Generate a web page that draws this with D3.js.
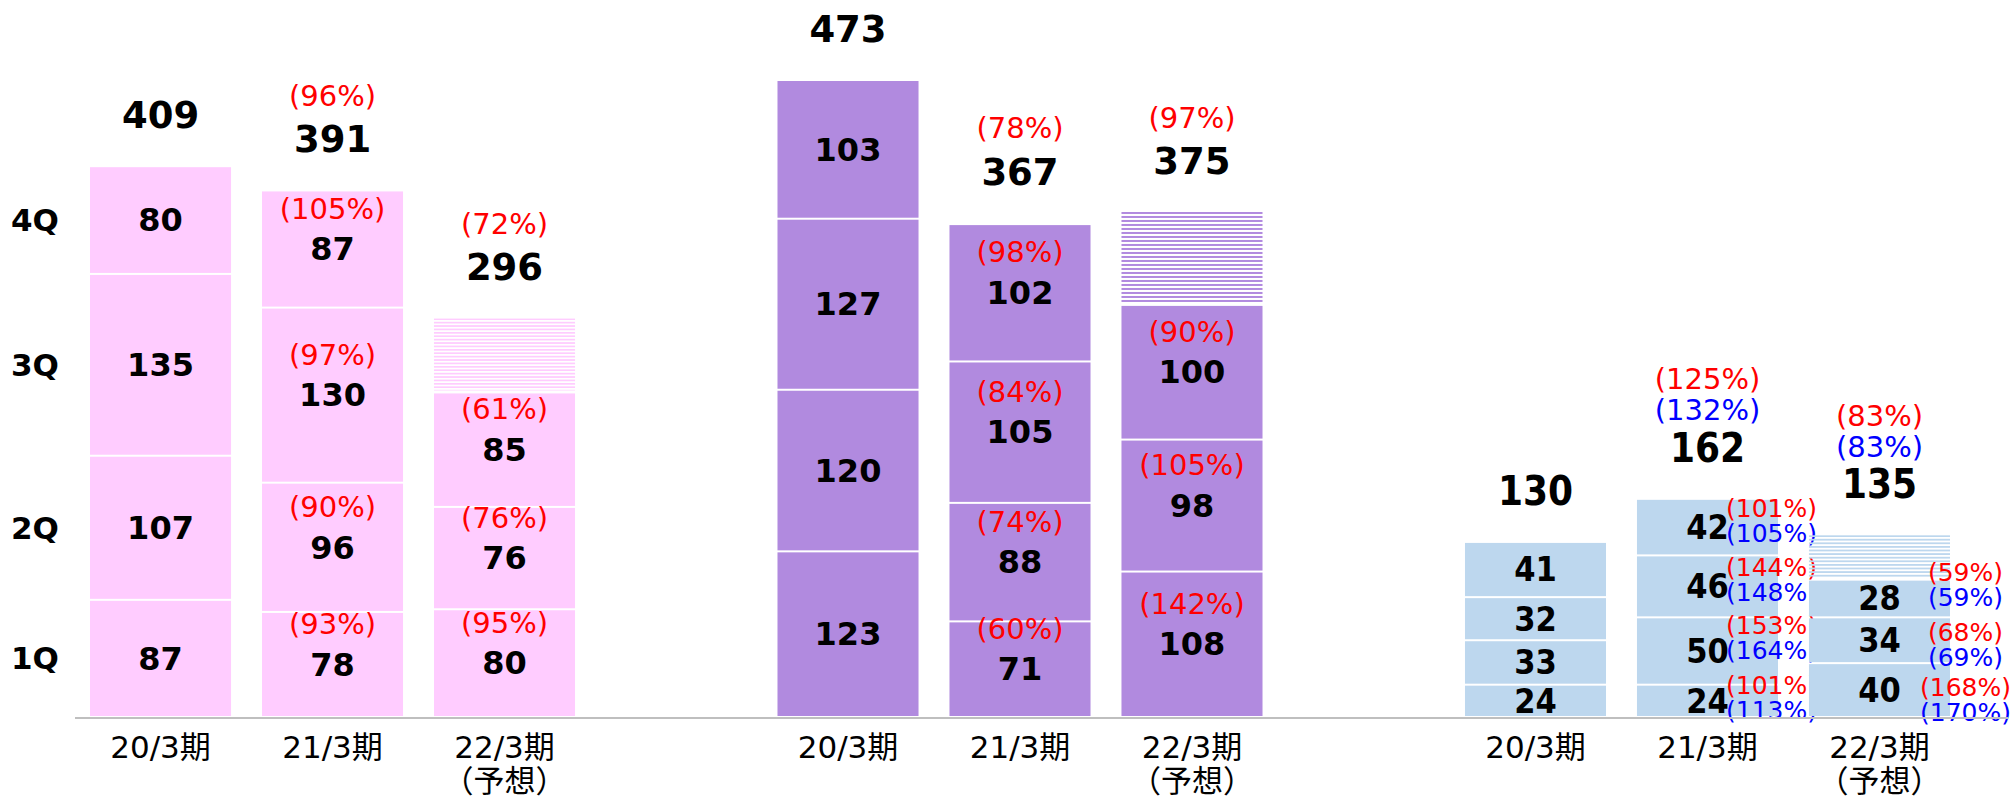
<!DOCTYPE html>
<html>
<head>
<meta charset="utf-8">
<script src="https://cdn.jsdelivr.net/npm/d3@7"></script>
<style>
    body { margin: 0; background: #fff; }
    text { font-family: "DejaVu Sans", "Noto Sans CJK JP", sans-serif; }
</style>
</head>
<body>
<div id="chart"></div>
<script>
// x-axis periods
const periods = ['20/3期', '21/3期', '22/3期'];
const periodNotes = ['', '', '（予想）'];
const quarters = ['1Q', '2Q', '3Q', '4Q'];

// pink group: quarterly values (1Q..4Q), totals, YoY %
const pinkQuarters = [[87, 107, 135, 80], [78, 96, 130, 87], [80, 76, 85]];
const pinkTotals = [409, 391, 296];
const pinkQuarterPct = [[], [93, 90, 97, 105], [95, 76, 61]];
const pinkTotalPct = [null, 96, 72];

// purple group
const purpleQuarters = [[123, 120, 127, 103], [71, 88, 105, 102], [108, 98, 100]];
const purpleTotals = [473, 367, 375];
const purpleQuarterPct = [[], [60, 74, 84, 98], [142, 105, 90]];
const purpleTotalPct = [null, 78, 97];

// blue group, two % rows (red / blue)
const blueQuarters = [[24, 33, 32, 41], [24, 50, 46, 42], [40, 34, 28]];
const blueTotals = [130, 162, 135];
const blueQuarterPctRed = [[], [101, 153, 144, 101], [168, 68, 59]];
const blueQuarterPctBlue = [[], [113, 164, 148, 105], [170, 69, 59]];
const blueTotalPctRed = [null, 125, 83];
const blueTotalPctBlue = [null, 132, 83];

const groups = [
    { key: 'pink', color: '#ffccff', q: pinkQuarters, totals: pinkTotals, pct: pinkQuarterPct, totalPct: pinkTotalPct, stripe: 3.4 },
    { key: 'purple', color: '#b18adf', q: purpleQuarters, totals: purpleTotals, pct: purpleQuarterPct, totalPct: purpleTotalPct, stripe: 4 },
    { key: 'blue', color: '#bdd7ee', q: blueQuarters, totals: blueTotals, pct: blueQuarterPctRed, pct2: blueQuarterPctBlue,
      totalPct: blueTotalPctRed, totalPct2: blueTotalPctBlue, stripe: 3.6, narrow: true }
];

// small vertical nudges for the side-by-side % pairs in the blue group (label layout only)
const sideNudge = [[], [-3, -13, -6, -6], [10, 5, -13]];
const sideShift = [0, 64, 86];

const width = 2012;
const height = 800;
const fmtPct = v => `(${v}%)`;

const svg = d3.select('#chart')
    .append('svg')
    .attr('width', width)
    .attr('height', height);

const defs = svg.append('defs');

// scales
const y = d3.scaleLinear().domain([0, 473]).range([717, 80]);

const x0 = d3.scaleBand()
    .domain(groups.map(g => g.key))
    .range([90, 1950])
    .paddingInner(0.2945)
    .paddingOuter(0);

const x1 = d3.scaleBand()
    .domain(periods)
    .range([0, x0.bandwidth()])
    .paddingInner(0.18);

const bw = x1.bandwidth();

groups.forEach(gr => {
    const g = svg.append('g').attr('transform', `translate(${x0(gr.key)},0)`);
    const numFont = gr.narrow ? '"DejaVu Sans Condensed", "DejaVu Sans", sans-serif' : null;

    periods.forEach((p, i) => {
        const bx = x1(p);
        const cx = bx + bw / 2;
        let base = 0;
        const segs = gr.q[i].map((v, k) => {
            const s = { v, k, y0: base, y1: base + v };
            base += v;
            return s;
        });
        const mid = d => (y(d.y0) + y(d.y1)) / 2;

        // forecast remainder as striped block
        if (gr.totals[i] > base) {
            const top = y(gr.totals[i]);
            const pid = `hatch-${gr.key}-${i}`;
            const pat = defs.append('pattern')
                .attr('id', pid)
                .attr('patternUnits', 'userSpaceOnUse')
                .attr('x', 0).attr('y', top)
                .attr('width', 20).attr('height', gr.stripe);
            pat.append('rect')
                .attr('width', 20).attr('height', gr.stripe / 2)
                .attr('fill', gr.color);
            g.append('rect')
                .attr('x', bx)
                .attr('y', top)
                .attr('width', bw)
                .attr('height', y(base) - top - 2)
                .attr('fill', `url(#${pid})`);
        }

        g.selectAll(null)
            .data(segs)
            .join('rect')
            .attr('x', bx)
            .attr('y', d => y(d.y1) + 1)
            .attr('width', bw)
            .attr('height', d => y(d.y0) - y(d.y1) - 2)
            .attr('fill', gr.color);

        // segment values
        g.selectAll(null)
            .data(segs)
            .join('text')
            .attr('x', cx)
            .attr('y', mid)
            .attr('dy', '0.35em')
            .attr('text-anchor', 'middle')
            .style('font-family', numFont)
            .style('font-size', gr.narrow ? '34px' : '32px')
            .style('font-weight', 'bold')
            .text(d => d.v);

        // segment percentages
        const pct = gr.pct[i];
        if (pct.length) {
            if (!gr.narrow) {
                g.selectAll(null)
                    .data(segs)
                    .join('text')
                    .attr('x', cx)
                    .attr('y', d => mid(d) - 40)
                    .attr('dy', '0.33em')
                    .attr('text-anchor', 'middle')
                    .attr('fill', '#ff0000')
                    .style('font-size', '29px')
                    .text(d => fmtPct(pct[d.k]));
            } else {
                const px = cx + sideShift[i];
                g.selectAll(null)
                    .data(segs)
                    .join('text')
                    .attr('x', px)
                    .attr('y', d => mid(d) + sideNudge[i][d.k] - 12.5)
                    .attr('dy', '0.33em')
                    .attr('text-anchor', 'middle')
                    .attr('fill', '#ff0000')
                    .style('font-size', '25px')
                    .text(d => fmtPct(pct[d.k]));
                g.selectAll(null)
                    .data(segs)
                    .join('text')
                    .attr('x', px)
                    .attr('y', d => mid(d) + sideNudge[i][d.k] + 12.5)
                    .attr('dy', '0.33em')
                    .attr('text-anchor', 'middle')
                    .attr('fill', '#0000ff')
                    .style('font-size', '25px')
                    .text(d => fmtPct(gr.pct2[i][d.k]));
            }
        }

        // totals
        const ty = y(gr.totals[i]) - 51;
        g.append('text')
            .attr('x', cx)
            .attr('y', ty)
            .attr('dy', '0.35em')
            .attr('text-anchor', 'middle')
            .style('font-family', numFont)
            .style('font-size', gr.narrow ? '40px' : '37px')
            .style('font-weight', 'bold')
            .text(gr.totals[i]);

        if (gr.totalPct[i] != null) {
            g.append('text')
                .attr('x', cx)
                .attr('y', ty - (gr.narrow ? 68 : 43))
                .attr('dy', '0.33em')
                .attr('text-anchor', 'middle')
                .attr('fill', '#ff0000')
                .style('font-size', '29px')
                .text(fmtPct(gr.totalPct[i]));
        }
        if (gr.totalPct2 && gr.totalPct2[i] != null) {
            g.append('text')
                .attr('x', cx)
                .attr('y', ty - 37)
                .attr('dy', '0.33em')
                .attr('text-anchor', 'middle')
                .attr('fill', '#0000ff')
                .style('font-size', '29px')
                .text(fmtPct(gr.totalPct2[i]));
        }
    });

    // x-axis labels
    const axis = g.append('g')
        .attr('transform', `translate(0,${y(0)})`)
        .call(d3.axisBottom(x1).tickSize(0).tickPadding(0));
    axis.select('.domain').remove();
    axis.selectAll('.tick text')
        .attr('y', 41)
        .attr('dy', 0)
        .attr('fill', '#000')
        .style('font-size', '31px')
        .each(function (d, i) {
            const t = d3.select(this).text(null);
            t.append('tspan').attr('x', 0).text(d);
            if (periodNotes[i]) {
                t.append('tspan').attr('x', 0).attr('dy', 34).text(periodNotes[i]);
            }
        });
});

// baseline
svg.append('line')
    .attr('x1', 75)
    .attr('x2', 2008)
    .attr('y1', y(0) + 1)
    .attr('y2', y(0) + 1)
    .attr('stroke', '#bfbfbf')
    .attr('stroke-width', 2);

// quarter labels beside the first bar
let acc = 0;
const qMid = pinkQuarters[0].map(v => { const m = acc + v / 2; acc += v; return m; });
svg.selectAll('.qlabel')
    .data(quarters)
    .join('text')
    .attr('class', 'qlabel')
    .attr('x', 35)
    .attr('y', (d, k) => y(qMid[k]))
    .attr('dy', '0.35em')
    .attr('text-anchor', 'middle')
    .style('font-size', '31px')
    .style('font-weight', 'bold')
    .text(d => d);
</script>
</body>
</html>
